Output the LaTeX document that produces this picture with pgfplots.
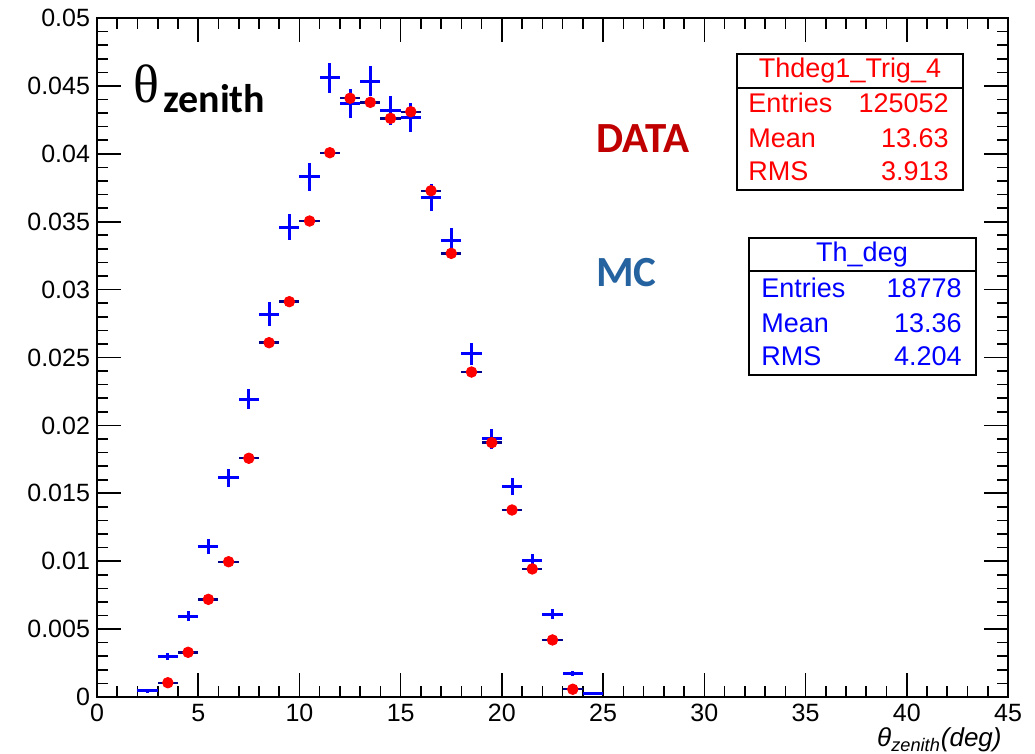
\documentclass[border=0pt]{standalone}
\usepackage{fontspec}
\setmainfont{Liberation Sans}
\newfontfamily\carlito{Carlito}
\newfontfamily\greekserif{Liberation Serif}
\usepackage{pgfplots}
\usepackage{pgfplotstable}
\pgfplotsset{compat=1.18}
\definecolor{mcblue}{RGB}{0,0,255}
\definecolor{navybar}{RGB}{0,0,140}
\definecolor{datared}{RGB}{255,0,0}
\definecolor{txtdata}{RGB}{192,0,0}
\definecolor{txtmc}{RGB}{36,98,160}

\pgfplotstableread{
x y ex ey
2.5 0.00045 0.5 0.00012
3.5 0.00297 0.5 0.00028
4.5 0.00596 0.5 0.00040
5.5 0.01107 0.5 0.00054
6.5 0.01615 0.5 0.00065
7.5 0.02194 0.5 0.00076
8.5 0.02820 0.5 0.00086
9.5 0.03460 0.5 0.00096
10.5 0.03830 0.5 0.00101
11.5 0.04560 0.5 0.00110
12.5 0.04372 0.5 0.00108
13.5 0.04536 0.5 0.00110
14.5 0.04317 0.5 0.00107
15.5 0.04266 0.5 0.00106
16.5 0.03677 0.5 0.00099
17.5 0.03360 0.5 0.00094
18.5 0.02526 0.5 0.00082
19.5 0.01900 0.5 0.00071
20.5 0.01549 0.5 0.00064
21.5 0.01004 0.5 0.00052
22.5 0.00611 0.5 0.00040
23.5 0.00174 0.5 0.00021
24.5 0.00027 0.5 0.00008
}\mctable

\pgfplotstableread{
x y ex
3.5 0.00105 0.5
4.5 0.00329 0.5
5.5 0.00719 0.5
6.5 0.00996 0.5
7.5 0.01758 0.5
8.5 0.02609 0.5
9.5 0.02911 0.5
10.5 0.03505 0.5
11.5 0.04008 0.5
12.5 0.04409 0.5
13.5 0.04379 0.5
14.5 0.04261 0.5
15.5 0.04310 0.5
16.5 0.03728 0.5
17.5 0.03267 0.5
18.5 0.02393 0.5
19.5 0.01873 0.5
20.5 0.01377 0.5
21.5 0.00943 0.5
22.5 0.00420 0.5
23.5 0.00057 0.5
}\datatable

\begin{document}
\begin{tikzpicture}
\begin{axis}[
  name=ax,
  width=455.5pt, height=339.5pt, scale only axis,
  xmin=0, xmax=45, ymin=0, ymax=0.05,
  xtick={0,5,10,15,20,25,30,35,40,45},
  ytick={0,0.005,0.01,0.015,0.02,0.025,0.03,0.035,0.04,0.045,0.05},
  yticklabels={0,0.005,0.01,0.015,0.02,0.025,0.03,0.035,0.04,0.045,0.05},
  minor x tick num=4, minor y tick num=4,
  tick align=inside,
  major tick length=12pt, minor tick length=5.5pt,
  axis line style={line width=1pt},
  every tick/.style={black, line width=0.8pt},
  tick label style={font=\fontsize{12.5}{15}\selectfont},
  /pgf/number format/assume math mode=true,
  clip=false,
]
\addplot[only marks, mark=*, mark size=2.65pt,
  mark options={fill=datared, draw=datared},
  error bars/.cd, x dir=both, x explicit, error mark=none,
  error bar style={draw=navybar, line width=1.2pt}]
  table[x=x, y=y, x error=ex] {\datatable};
\addplot[draw=none, no markers,
  error bars/.cd, x dir=both, x explicit, y dir=both, y explicit, error mark=none,
  error bar style={draw=mcblue, line width=1.5pt}]
  table[x=x, y=y, x error=ex, y error=ey] {\mctable};
\end{axis}
\coordinate (img) at ([shift={(-48.5pt,348.5pt)}]ax.south west);
\begin{scope}[shift={(img)}, x=0.5pt, y=-0.5pt, every node/.style={inner sep=0pt}]
  % stat box DATA
  \draw[line width=0.8pt] (737,54) rectangle (963,190);
  \draw[line width=0.8pt] (737,88) -- (963,88);
  \begin{scope}[every node/.append style={text=datared, font=\fontsize{13.5}{16}\selectfont}]
    \node[anchor=base] at (850,78) {Thdeg1\_Trig\_4};
    \node[anchor=base west] at (748,113) {Entries};
    \node[anchor=base east] at (949,113) {125052};
    \node[anchor=base west] at (748,148) {Mean};
    \node[anchor=base east] at (949,148) {13.63};
    \node[anchor=base west] at (748,181) {RMS};
    \node[anchor=base east] at (949,181) {3.913};
  \end{scope}
  % stat box MC
  \draw[line width=0.8pt] (749,238) rectangle (976,375);
  \draw[line width=0.8pt] (749,271) -- (976,271);
  \begin{scope}[every node/.append style={text=mcblue, font=\fontsize{13.5}{16}\selectfont}]
    \node[anchor=base] at (862,262) {Th\_deg};
    \node[anchor=base west] at (761,298) {Entries};
    \node[anchor=base east] at (962,298) {18778};
    \node[anchor=base west] at (761,333) {Mean};
    \node[anchor=base east] at (962,333) {13.36};
    \node[anchor=base west] at (761,366) {RMS};
    \node[anchor=base east] at (962,366) {4.204};
  \end{scope}
  % labels
  \node[anchor=base west, text=txtdata, font=\carlito\bfseries\fontsize{21.5}{24}\selectfont] at (596,153) {DATA};
  \node[anchor=base west, text=txtmc, font=\carlito\bfseries\fontsize{21.5}{24}\selectfont] at (596,287) {MC};
  \node[anchor=base west, font=\greekserif\fontsize{27}{30}\selectfont] at (133,103) {θ};
  \node[anchor=base west, font=\carlito\bfseries\fontsize{20}{22}\selectfont] at (163,113) {zenith};
  % x axis label
  \node[anchor=base east, font=\itshape\fontsize{13}{15}\selectfont] at (1002,747) {θ\textsubscript{zenith}(deg)};
\end{scope}
\pgfresetboundingbox
\path[use as bounding box] (img) rectangle ++(517.5pt,-377pt);
\end{tikzpicture}
\end{document}
